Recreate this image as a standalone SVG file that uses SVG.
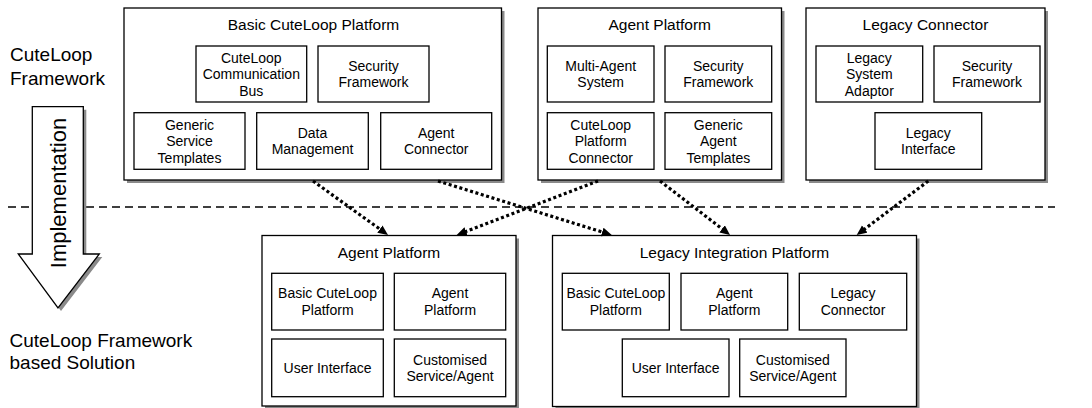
<svg xmlns="http://www.w3.org/2000/svg" width="1092" height="408" viewBox="0 0 1092 408">
<defs>
<style>
text{font-family:"Liberation Sans",Arial,sans-serif;fill:#000;text-anchor:middle}
.t{font-size:15.5px}
.s{font-size:14px}
.l{font-size:19px;text-anchor:start}
.outer{fill:#fff;stroke:#000;stroke-width:1.3}
.sh{fill:#8a8a8a;stroke:none}
.inner{fill:#fff;stroke:#000;stroke-width:1.3}
.con{fill:none;stroke:#000;stroke-width:3.2;stroke-dasharray:3 2.6}
</style>
<marker id="ah" markerUnits="userSpaceOnUse" markerWidth="12" markerHeight="10" refX="2" refY="4.5" orient="auto">
<path d="M0,0 L10,4.5 L0,9 z" fill="#000"/>
</marker>
</defs>
<rect width="1092" height="408" fill="#fff"/>

<g id="labels">
<text class="l" x="10" y="61">CuteLoop</text>
<text class="l" x="10" y="84.5">Framework</text>
<text class="l" x="9.5" y="346.5">CuteLoop Framework</text>
<text class="l" x="9.5" y="369">based Solution</text>
</g>

<line x1="8" y1="207" x2="1055" y2="207" stroke="#000" stroke-width="1.3" stroke-dasharray="8 5"/>

<g id="implementation">
<polygon class="sh" points="35.3,109.7 86.3,109.7 86.3,257 102.3,257 61,311 21.3,257 35.3,257"/>
<polygon fill="#fff" stroke="#000" stroke-width="1.3" points="32.3,106.7 83.3,106.7 83.3,254 99.3,254 58,308 18.3,254 32.3,254"/>
<text x="0" y="0" font-size="22px" transform="translate(65.5,193) rotate(-90)">Implementation</text>
</g>

<g id="basic-cuteloop-platform">
<rect class="sh" x="127" y="11" width="377.5" height="172"/>
<rect class="outer" x="124" y="8" width="377.5" height="172"/>
<text class="t" x="313.5" y="30">Basic CuteLoop Platform</text>
<rect class="inner" x="196" y="46" width="110.7" height="56"/>
<text class="s" x="251.3" y="62.5">CuteLoop</text>
<text class="s" x="251.3" y="79">Communication</text>
<text class="s" x="251.3" y="95.5">Bus</text>
<rect class="inner" x="318" y="46" width="111" height="56"/>
<text class="s" x="373.5" y="70.75">Security</text>
<text class="s" x="373.5" y="87.25">Framework</text>
<rect class="inner" x="134" y="112.7" width="111" height="56.6"/>
<text class="s" x="189.5" y="129.5">Generic</text>
<text class="s" x="189.5" y="146">Service</text>
<text class="s" x="189.5" y="162.5">Templates</text>
<rect class="inner" x="256.7" y="112.7" width="111.6" height="56.6"/>
<text class="s" x="312.5" y="137.75">Data</text>
<text class="s" x="312.5" y="154.25">Management</text>
<rect class="inner" x="380.7" y="112.7" width="111" height="56.6"/>
<text class="s" x="436.2" y="137.75">Agent</text>
<text class="s" x="436.2" y="154.25">Connector</text>
</g>

<g id="agent-platform-top">
<rect class="sh" x="541" y="11" width="243.5" height="172"/>
<rect class="outer" x="538" y="8" width="243.5" height="172"/>
<text class="t" x="659.75" y="30">Agent Platform</text>
<rect class="inner" x="547.3" y="46" width="106.7" height="56"/>
<text class="s" x="600.7" y="70.75">Multi-Agent</text>
<text class="s" x="600.7" y="87.25">System</text>
<rect class="inner" x="665" y="46" width="106.7" height="56"/>
<text class="s" x="718.3" y="70.75">Security</text>
<text class="s" x="718.3" y="87.25">Framework</text>
<rect class="inner" x="547.3" y="112.7" width="106.7" height="56.6"/>
<text class="s" x="600.7" y="129.5">CuteLoop</text>
<text class="s" x="600.7" y="146">Platform</text>
<text class="s" x="600.7" y="162.5">Connector</text>
<rect class="inner" x="665" y="112.7" width="106.7" height="56.6"/>
<text class="s" x="718.3" y="129.5">Generic</text>
<text class="s" x="718.3" y="146">Agent</text>
<text class="s" x="718.3" y="162.5">Templates</text>
</g>

<g id="legacy-connector">
<rect class="sh" x="809" y="11" width="239" height="172"/>
<rect class="outer" x="806" y="8" width="239" height="172"/>
<text class="t" x="925.5" y="30">Legacy Connector</text>
<rect class="inner" x="816" y="46" width="106.7" height="56"/>
<text class="s" x="869.3" y="62.5">Legacy</text>
<text class="s" x="869.3" y="79">System</text>
<text class="s" x="869.3" y="95.5">Adaptor</text>
<rect class="inner" x="934" y="46" width="106" height="56"/>
<text class="s" x="987" y="70.75">Security</text>
<text class="s" x="987" y="87.25">Framework</text>
<rect class="inner" x="875" y="112.7" width="106.7" height="56.6"/>
<text class="s" x="928.3" y="137.75">Legacy</text>
<text class="s" x="928.3" y="154.25">Interface</text>
</g>

<g id="agent-platform-solution">
<rect class="sh" x="265" y="238.5" width="254" height="170.5"/>
<rect class="outer" x="262" y="235.5" width="254" height="170.5"/>
<text class="t" x="389" y="257.5">Agent Platform</text>
<rect class="inner" x="271.7" y="273.3" width="111.6" height="56.7"/>
<text class="s" x="327.5" y="298.4">Basic CuteLoop</text>
<text class="s" x="327.5" y="314.9">Platform</text>
<rect class="inner" x="394.3" y="273.3" width="111.4" height="56.7"/>
<text class="s" x="450" y="298.4">Agent</text>
<text class="s" x="450" y="314.9">Platform</text>
<rect class="inner" x="271.7" y="339" width="111.6" height="57.7"/>
<text class="s" x="327.5" y="372.8">User Interface</text>
<rect class="inner" x="394.3" y="339" width="111.4" height="57.7"/>
<text class="s" x="450" y="364.5">Customised</text>
<text class="s" x="450" y="381">Service/Agent</text>
</g>

<g id="legacy-integration-platform">
<rect class="sh" x="555.5" y="238.5" width="364" height="171"/>
<rect class="outer" x="552.5" y="235.5" width="364" height="171"/>
<text class="t" x="734.5" y="257.5">Legacy Integration Platform</text>
<rect class="inner" x="562.3" y="273.3" width="107" height="56.7"/>
<text class="s" x="615.8" y="298.4">Basic CuteLoop</text>
<text class="s" x="615.8" y="314.9">Platform</text>
<rect class="inner" x="681" y="273.3" width="106.7" height="56.7"/>
<text class="s" x="734.3" y="298.4">Agent</text>
<text class="s" x="734.3" y="314.9">Platform</text>
<rect class="inner" x="799.3" y="273.3" width="107.4" height="56.7"/>
<text class="s" x="853" y="298.4">Legacy</text>
<text class="s" x="853" y="314.9">Connector</text>
<rect class="inner" x="622.3" y="339" width="106.7" height="57.7"/>
<text class="s" x="675.7" y="372.8">User Interface</text>
<rect class="inner" x="739.7" y="339" width="106.3" height="57.7"/>
<text class="s" x="792.8" y="364.5">Customised</text>
<text class="s" x="792.8" y="381">Service/Agent</text>
</g>

<g id="connectors">
<path class="con" d="M313,181 L381.5,230.3" marker-end="url(#ah)"/>
<path class="con" d="M438,181 L604.1,232.6" marker-end="url(#ah)"/>
<path class="con" d="M598,181 L464.2,232.1" marker-end="url(#ah)"/>
<path class="con" d="M660,181 L723.7,230.1" marker-end="url(#ah)"/>
<path class="con" d="M928.3,181 L863.1,230.2" marker-end="url(#ah)"/>
</g>
</svg>
